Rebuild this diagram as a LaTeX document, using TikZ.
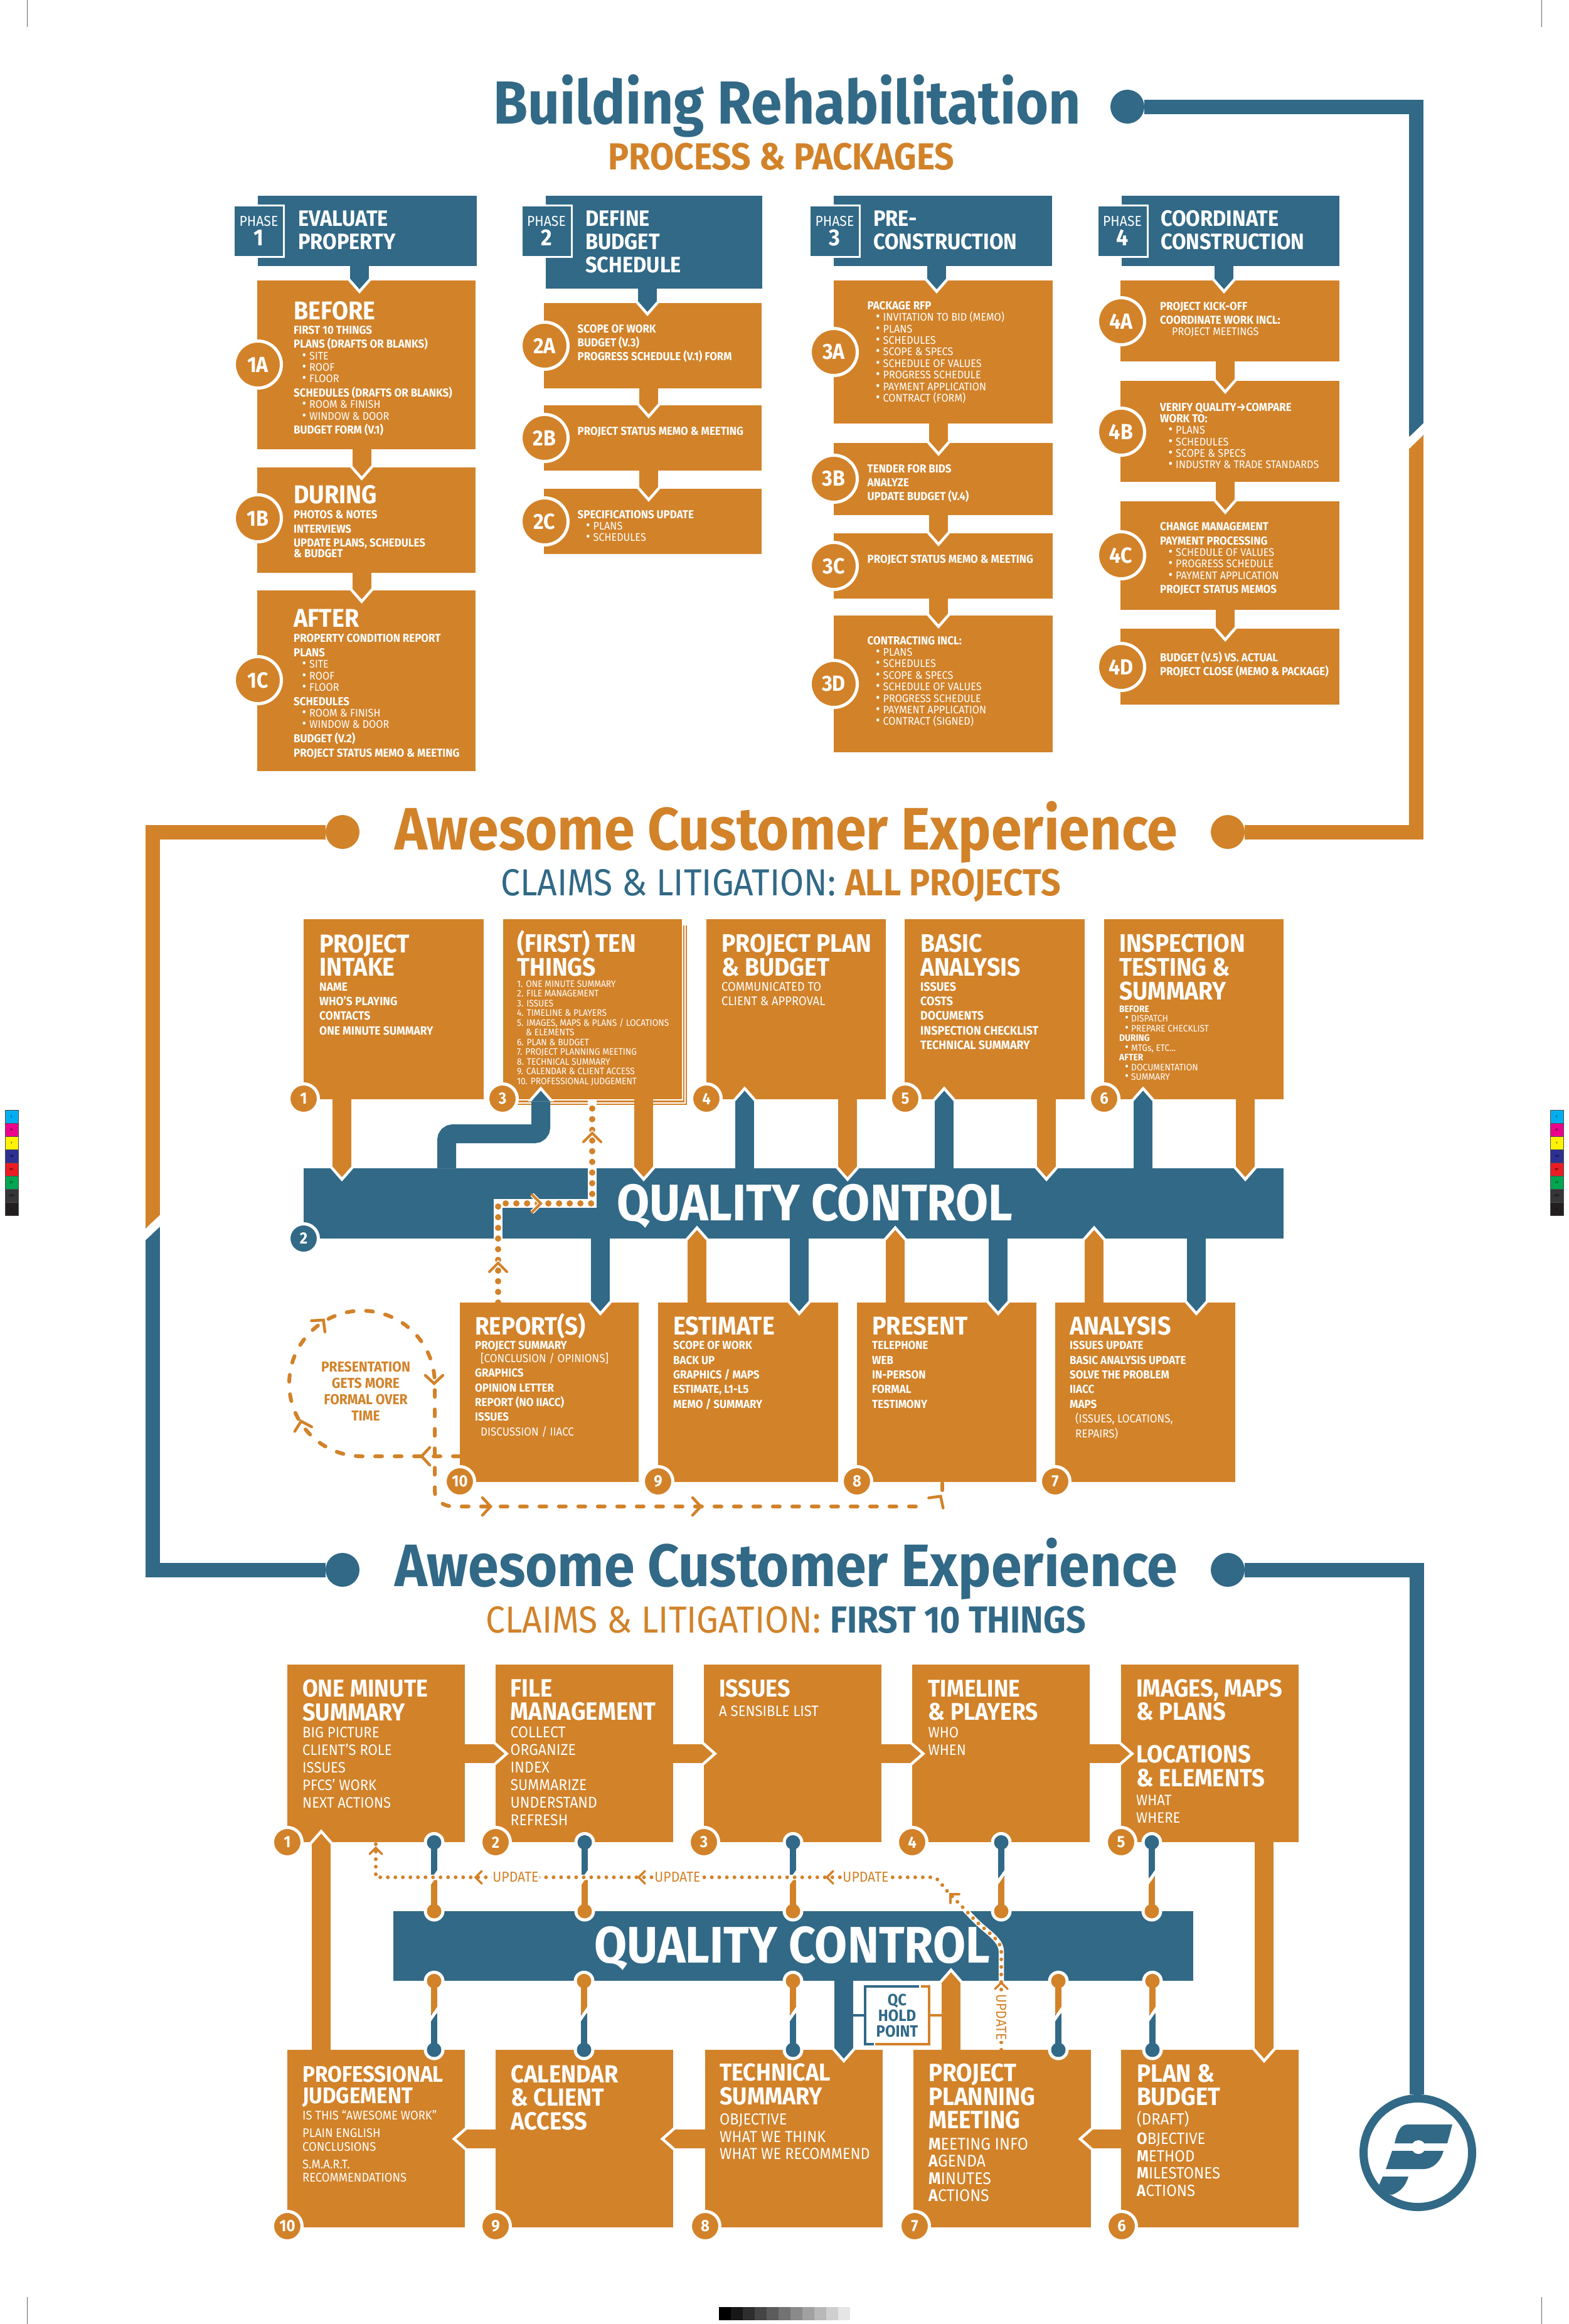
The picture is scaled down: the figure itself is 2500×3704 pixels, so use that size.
\documentclass[tikz,border=0pt]{standalone}
\usepackage{fontspec}
\setmainfont{Fira Sans}[FakeStretch=0.92]
\usetikzlibrary{arrows.meta}

\definecolor{rustc}{HTML}{D28229}
\definecolor{seac}{HTML}{316987}

\newcommand{\fz}[1]{\fontsize{#1}{0}\selectfont}
\newcommand{\bdf}[1]{\bfseries\fz{#1}}
\newcommand{\rgf}[1]{\mdseries\fz{#1}}
\newcommand{\ls}[1]{\\[#1pt]}
\newcommand{\bod}{\bdf{18.4}}
\newcommand{\lst}{\rgf{17.6}}
\newcommand{\bul}{\hspace*{13.5pt}\makebox[11.5pt][l]{\fz{22}\textbullet}}
\newcommand{\bus}{\hspace*{9pt}\makebox[10pt][l]{\fz{20}\textbullet}}
\newcommand{\nxb}{\ls{22.6}\bod}
\newcommand{\nxi}{\ls{18.4}\lst\bul}
\newcommand{\setstack}{\lineskiplimit=-\maxdimen\relax\baselineskip=0pt\relax}

\tikzset{
  card/.style={rectangle,fill=#1,inner sep=0pt,anchor=north west},
  stack/.style={anchor=base west,inner sep=0pt,text=white,text width=800pt,align=flush left,font=\setstack},
  stackc/.style={anchor=base,inner sep=0pt,text width=300pt,align=flush center,font=\setstack},
  tagbox/.style={rectangle,fill=seac,draw=white,line width=3pt,inner sep=0pt,minimum width=80pt,minimum height=82pt,
    text=white,text width=76pt,align=flush center,font=\setstack},
  badge/.style={circle,fill=rustc,draw=white,line width=5pt,inner sep=0pt,minimum size=75pt,text=white,font=\bdf{35}},
  numb/.style={circle,fill=#1,draw=white,line width=5pt,inner sep=0pt,minimum size=47pt,text=white,font=\bdf{26}},
  numb/.default=rustc,
  railend/.style={circle,fill=#1,inner sep=0pt,minimum size=54pt},
  rail/.style={#1,line width=23pt},
  cut/.style={white,line width=13.4pt},
  title/.style={anchor=base,inner sep=0pt,font=\bdf{97}},
  linkedge/.style={white,line width=30pt,shorten >=-21pt,-{Triangle[length=24pt,width=42pt,line width=0pt]}},
  link/.style={#1,line width=30pt,shorten >=-14pt,-{Triangle[length=17pt,width=30pt,line width=0pt]}},
  bigdots/.style={rustc,line width=10pt,line cap=round,dash pattern=on 0.01pt off 17pt,
    preaction={draw=white,line width=14pt}},
  smalldots/.style={rustc,line width=6pt,line cap=round,dash pattern=on 0.01pt off 12pt,
    preaction={draw=white,line width=8.5pt}},
  dashflow/.style={rustc,line width=6pt,line cap=round,dash pattern=on 11pt off 20pt},
  upd/.style={fill=white,text=rustc,inner sep=1.5pt,font=\rgf{23}},
  bigchev/.pic={\draw[white,line width=7pt] (-10,-14) -- (4,0) -- (-10,14);
    \draw[rustc,line width=4pt,line cap=round] (-10,-14) -- (4,0) -- (-10,14);},
  smallchev/.pic={\draw[rustc,line width=3.5pt,line cap=round] (-7,-10) -- (3,0) -- (-7,10);},
  dashchev/.pic={\draw[rustc,line width=4.5pt,line cap=round] (-9,-14) -- (4,0) -- (-9,14);},
  swatch/.style={rectangle,fill=#1,draw=black!70,line width=0.6pt,inner sep=0pt,minimum width=21pt,minimum height=21pt,font=\fz{5}},
}

\newcommand{\link}[3]{%
  \draw[linkedge] (#2) -- (#3);
  \draw[link=#1] (#2) -- (#3);
}
\newcommand{\balllink}[5]{%
  \coordinate (bt) at (#1);
  \coordinate (bb) at (#2);
  \coordinate (bm) at (bt |- 0,#3);
  \fill[white] (bt) circle (16.5) (bb) circle (16.5);
  \draw[#4,line width=10pt] (bt) -- (bm);
  \draw[#5,line width=10pt] (bm) -- (bb);
  \fill[#4] (bt) circle (11.5);
  \fill[#5] (bb) circle (11.5);
  \draw[white,line width=5pt] (bm) ++(-7,10) -- ++(14,-20);
}

\begin{document}
\begin{tikzpicture}[x=1pt,y=-1pt,>=stealth]
  \useasboundingbox (0,0) rectangle (2500,3704);

  \foreach \cx in {43,2457} {
    \draw[black!60,line width=1pt] (\cx,0) -- (\cx,43);
    \draw[black!60,line width=1pt] (\cx,3661) -- (\cx,3704);
  }
  \foreach \bx in {18.5,2481.5} {
    \foreach \hue/\lab [count=\i from 0] in {00AEEF/C,EC008C/M,FFF200/Y,2E3192/CM,ED1C24/MY,00A651/CY,363639/CMY,231F20/K} {
      \definecolor{barc}{HTML}{\hue}
      \node (sw\bx-\i) [swatch=barc] at (\bx,1779.5+21*\i) {\lab};
    }
  }
  \foreach \i in {0,...,10} {
    \fill[black!\the\numexpr100-\i*9\relax] (1146+19*\i,3677) rectangle ++(19,21);
  }

  \node (dtop) [railend=seac] at (1797,170) {};
  \node (dr2) [railend=rustc] at (1957,1326) {};
  \node (dl2) [railend=rustc] at (546,1326) {};
  \node (dl3) [railend=seac] at (546,2502) {};
  \node (dr3) [railend=seac] at (1957,2502) {};
  \node (logo) [circle,draw=seac,line width=13pt,inner sep=0pt,minimum size=173pt] at (2260,3431) {};

  \draw[rail=seac] (dtop) -- (2257.5,170) -- (2257.5,695);
  \draw[rail=rustc] (2257.5,695) -- (2257.5,1326) -- (dr2);
  \draw[cut] (2240,712) -- (2275,678);
  \draw[rail=rustc] (dl2) -- (243.5,1326) -- (243.5,1956);
  \draw[rail=seac] (243.5,1956) -- (243.5,2502) -- (dl3);
  \draw[cut] (226,1973) -- (261,1940);
  \draw[rail=seac] (dr3) -- (2258,2502) -- (logo.north -| 2258,0);

  \fill[seac] (2244,3386) -- (2315,3386) -- (2307,3416) -- (2223,3416) .. controls (2227,3398) and (2232,3386) .. (2244,3386);
  \fill[seac] (2219,3428) -- (2301,3428) .. controls (2296,3445) and (2285,3457) .. (2268,3457) -- (2209,3457) -- cycle;
  \fill[white] (2261,3422) circle (11);
  \fill[seac] (2204,3469) -- (2245,3469) .. controls (2240,3485) and (2232,3493) .. (2219,3498) -- (2205,3495) -- (2198,3483) -- cycle;

  \node (ttl) [title,text=seac] at (1254.5,197) {Building Rehabilitation};
  \node (sub) [title,text=rustc,font=\bdf{60}] at (1245.5,270) {PROCESS \& PACKAGES};
  \node (ace1) [title,text=rustc,font=\bdf{95.5}] at (1253,1354) {Awesome Customer Experience};
  \node (cl1) [title,text=seac,font=\rgf{60}] at (1244.5,1427) {CLAIMS \& LITIGATION: \textcolor{rustc}{\bdf{60}ALL PROJECTS}};
  \node (ace2) [title,text=seac,font=\bdf{95.5}] at (1253,2528) {Awesome Customer Experience};
  \node (cl2) [title,text=rustc,font=\rgf{60}] at (1252.5,2602) {CLAIMS \& LITIGATION: \textcolor{seac}{\bdf{60}FIRST 10 THINGS}};

  \fill[rustc] (802,1475) rectangle (1095,1761);
  \fill[white] (802,1475) rectangle (1092.5,1758.5);
  \fill[rustc] (802,1475) rectangle (1091,1756.5);
  \fill[white] (802,1475) rectangle (1089,1754);

  \foreach \nm/\fl/\xa/\ya/\xb/\yb in {
    h1/seac/411/312/760/424, h2/seac/870/312/1215/460, h3/seac/1329/312/1677/424, h4/seac/1788/312/2135/424,
    b1a/rustc/410/447/758/716, b1b/rustc/410/745/758/913, b1c/rustc/410/941/758/1229,
    b2a/rustc/867/483/1214/619, b2b/rustc/867/646/1214/750, b2c/rustc/867/779/1214/883,
    b3a/rustc/1329/447/1678/675, b3b/rustc/1329/706/1678/821, b3c/rustc/1329/850/1678/954, b3d/rustc/1329/981/1678/1199,
    b4a/rustc/1786/447/2135/576, b4b/rustc/1786/607/2135/768, b4c/rustc/1786/799/2135/972, b4d/rustc/1786/1002/2135/1123,
    c1/rustc/484/1465/771/1752, c3/rustc/802/1465/1087/1752, c4/rustc/1126/1465/1412/1752,
    c5/rustc/1442/1465/1729/1752, c6/rustc/1760/1465/2046/1752,
    qca/seac/484/1862/2046/1974,
    d10/rustc/733/2076/1018/2362, d9/rustc/1049/2076/1336/2362, d8/rustc/1366/2076/1652/2362, d7/rustc/1682/2076/1969/2362,
    q1/rustc/458/2653/741/2936, q2/rustc/790/2653/1073/2936, q3/rustc/1122/2653/1405/2936,
    q4/rustc/1454/2653/1737/2936, q5/rustc/1787/2653/2070/2936,
    qcb/seac/627/3046/1902/3157,
    p10/rustc/458/3267/741/3550, p9/rustc/790/3267/1073/3550, p8/rustc/1124/3267/1407/3550,
    p7/rustc/1456/3267/1739/3550, p6/rustc/1787/3267/2070/3550
  } {
    \node (\nm) [card=\fl,minimum width={\xb-\xa},minimum height={\yb-\ya}] at (\xa,\ya) {};
  }

  \foreach \x/\fa/\fb in {573/h1/b1a,1032/h2/b2a,1493/h3/b3a,1951/h4/b4a,957/qca/d10,1274/qca/d9,1591/qca/d8,1907/qca/d7,1345/qcb/p8} {
    \link{seac}{\fa.south -| \x,0}{\fb.north -| \x,0}
  }
  \foreach \x/\fa/\fb in {576.5/b1a/b1b,576.5/b1b/b1c,1034/b2a/b2b,1034/b2b/b2c,1496/b3a/b3b,1496/b3b/b3c,1496/b3c/b3d,
    1953/b4a/b4b,1953/b4b/b4c,1953/b4c/b4d,545/c1/qca,1026/c3/qca,1351/c4/qca,1668/c5/qca,1985/c6/qca,2015/q5/p6} {
    \link{rustc}{\fa.south -| \x,0}{\fb.north -| \x,0}
  }
  \foreach \x/\fa/\fb in {1187/qca/c4,1505/qca/c5,1822/qca/c6} {
    \link{seac}{\fa.north -| \x,0}{\fb.south -| \x,0}
  }
  \foreach \x/\fa/\fb in {1111/d9/qca,1427/d8/qca,1744/d7/qca,512/p10/q1,1516/p7/qcb} {
    \link{rustc}{\fa.north -| \x,0}{\fb.south -| \x,0}
  }
  \foreach \fa/\fb in {q1/q2,q2/q3,q3/q4,q4/q5} {
    \link{rustc}{\fa.east |- 0,2795}{\fb.west |- 0,2795}
  }
  \foreach \fa/\fb in {p9/p10,p8/p9,p6/p7} {
    \link{rustc}{\fa.west |- 0,3409}{\fb.east |- 0,3409}
  }
  \draw[linkedge,rounded corners=10pt] (qca.north -| 712,0) -- (712,1807) -- (862,1807) -- (c3.south -| 862,0);
  \draw[link=seac,rounded corners=10pt] (qca.north -| 712,0) -- (712,1807) -- (862,1807) -- (c3.south -| 862,0);

  \foreach \x/\fa in {692/q1,932/q2,1264/q3,1596/q4,1836/q5} {
    \balllink{\fa.south -| \x,0}{qcb.north -| \x,0}{2992}{seac}{rustc}
  }
  \foreach \x/\fb in {692/p10,931/p9,1264/p8,1687/p7,1837/p6} {
    \balllink{qcb.south -| \x,0}{\fb.north -| \x,0}{3210}{rustc}{seac}
  }

  \node (hold) [rectangle,fill=white,text=seac,inner sep=0pt,minimum width=102pt,minimum height=91pt,text width=100pt,align=flush center,font=\setstack]
    at (1430,3212) {\bdf{26}QC\ls{25}HOLD\ls{25}POINT};
  \draw[seac,line width=4pt] (hold.south west) ++(14,0) -- (hold.south west) -- (hold.north west) -- ++(86,0);
  \draw[rustc,line width=4pt] (hold.north east) ++(-13,0) -- (hold.north east) -- (hold.south east) -- ++(-86,0);
  \draw[seac,line width=4pt] (1360,3212) -- (hold.west);
  \draw[rustc,line width=4pt] (hold.east) -- (1502,3212);

  \draw[bigdots] (d10.north -| 794,0) -- (794,1918) -- (944,1918) -- (c3.south -| 944,0);
  \pic[rotate=90] at (944,1810) {bigchev};
  \pic at (858,1918) {bigchev};
  \pic[rotate=90] at (794,2017) {bigchev};

  \draw[dashflow] (d10.west |- 0,2321) -- (577,2321) arc[start angle=90,end angle=360,radius=116]
    -- (693,2376) .. controls (693,2390) and (705,2401) .. (724,2401) -- (1476,2401);
  \draw[dashflow] (1502,2375) -- (d8.south -| 1502,0);
  \foreach \px/\py/\ang in {676/2321/180,481/2269/105,513/2107/50,692/2201/-90,778/2401/0,1113/2401/0,1497/2388/55} {
    \pic[rotate=\ang] at (\px,\py) {dashchev};
  }

  \draw[smalldots] (p7.north -| 1596,0) -- (1596,3110) .. controls (1596,3090) and (1570,3078) .. (1551,3057) -- (1506,3010)
    .. controls (1500,3002) and (1495,2992) .. (1485,2992) -- (599,2992) -- (q1.south -| 599,0);
  \foreach \px/\py/\ang in {599/2948/90,761/2992/180,1021/2992/180,1321/2992/180,1517/3021/135,1596/3163/90} {
    \pic[rotate=\ang] at (\px,\py) {smallchev};
  }
  \node (u1) [upd] at (822,2992) {UPDATE};
  \node (u2) [upd] at (1080,2992) {UPDATE};
  \node (u3) [upd] at (1380,2992) {UPDATE};
  \node (u4) [upd,rotate=-90] at (1596,3215) {UPDATE};

  \foreach \nm/\px/\py/\lab in {
    n1a/411/581/1A, n1b/411/826/1B, n1c/411/1084/1C, n2a/868/551/2A, n2b/868/698/2B, n2c/868/831/2C,
    n3a/1329/561/3A, n3b/1329/763/3B, n3c/1329/902/3C, n3d/1329/1090/3D,
    n4a/1787/512/4A, n4b/1787/688/4B, n4c/1787/885/4C, n4d/1787/1063/4D
  } {
    \node (\nm) [badge] at (\px,\py) {\lab};
  }
  \foreach \nm/\px/\py/\lab in {
    m1/484/1751/1, m3/801/1751/3, m4/1126/1751/4, m5/1443/1751/5, m6/1760/1751/6,
    m7/1682/2361/7, m8/1366/2361/8, m9/1049/2361/9, m10/733/2361/10,
    r1/458/2936/1, r2/790/2936/2, r3/1122/2936/3, r4/1454/2936/4, r5/1787/2936/5,
    r6/1788/3548/6, r7/1458/3548/7, r8/1124/3548/8, r9/790/3548/9, r10/458/3548/10
  } {
    \node (\nm) [numb] at (\px,\py) {\lab};
  }
  \node (m2) [numb=seac] at (484,1974) {2};

  \foreach \nm/\hx/\num in {t1/412.5/1,t2/871/2,t3/1330.5/3,t4/1789/4} {
    \node (\nm) [tagbox] at (\hx,368) {\rgf{23}PHASE\ls{31}\bdf{37}\num};
  }
  \node (h1t) [stack] at (475,360) {\bdf{35.5}EVALUATE\ls{37}PROPERTY};
  \node (h2t) [stack] at (933,360) {\bdf{35.5}DEFINE\ls{37}BUDGET\ls{37}SCHEDULE};
  \node (h3t) [stack] at (1392,360) {\bdf{35.5}PRE-\ls{37}CONSTRUCTION};
  \node (h4t) [stack] at (1850,360) {\bdf{35.5}COORDINATE\ls{37}CONSTRUCTION};

  \node (s1a) [stack] at (468,509) {\bdf{41}BEFORE\ls{23}\bod FIRST 10 THINGS\nxb PLANS (DRAFTS OR BLANKS)\nxi SITE\nxi ROOF\nxi FLOOR\nxb SCHEDULES (DRAFTS OR BLANKS)\nxi ROOM \& FINISH\nxi WINDOW \& DOOR\nxb BUDGET FORM (V.1)};
  \node (s1b) [stack] at (468,802) {\bdf{41}DURING\ls{24.4}\bod PHOTOS \& NOTES\nxb INTERVIEWS\nxb UPDATE PLANS, SCHEDULES\ls{17.2}\& BUDGET};
  \node (s1c) [stack] at (468,999) {\bdf{41}AFTER\ls{24.6}\bod PROPERTY CONDITION REPORT\nxb PLANS\nxi SITE\nxi ROOF\nxi FLOOR\nxb SCHEDULES\nxi ROOM \& FINISH\nxi WINDOW \& DOOR\nxb BUDGET (V.2)\nxb PROJECT STATUS MEMO \& MEETING};
  \node (s2a) [stack] at (920.5,530) {\bod SCOPE OF WORK\ls{22}BUDGET (V.3)\ls{22}PROGRESS SCHEDULE (V.1) FORM};
  \node (s2b) [stack] at (920.5,693) {\bod PROJECT STATUS MEMO \& MEETING};
  \node (s2c) [stack] at (920.5,826) {\bod SPECIFICATIONS UPDATE\nxi PLANS\nxi SCHEDULES};
  \node (s3a) [stack] at (1382.5,493.3) {\bod PACKAGE RFP\nxi INVITATION TO BID (MEMO)\nxi PLANS\nxi SCHEDULES\nxi SCOPE \& SPECS\nxi SCHEDULE OF VALUES\nxi PROGRESS SCHEDULE\nxi PAYMENT APPLICATION\nxi CONTRACT (FORM)};
  \node (s3b) [stack] at (1382.5,753) {\bod TENDER FOR BIDS\ls{22}ANALYZE\ls{22}UPDATE BUDGET (V.4)};
  \node (s3c) [stack] at (1382.5,897) {\bod PROJECT STATUS MEMO \& MEETING};
  \node (s3d) [stack] at (1382.5,1027) {\bod CONTRACTING INCL:\nxi PLANS\nxi SCHEDULES\nxi SCOPE \& SPECS\nxi SCHEDULE OF VALUES\nxi PROGRESS SCHEDULE\nxi PAYMENT APPLICATION\nxi CONTRACT (SIGNED)};
  \node (s4a) [stack] at (1849,494) {\bod PROJECT KICK-OFF\ls{22}COORDINATE WORK INCL:\ls{18.4}\lst\hspace*{19pt}PROJECT MEETINGS};
  \node (s4b) [stack] at (1849,655.6) {\bod VERIFY QUALITY→COMPARE\ls{17.7}WORK TO:\nxi PLANS\nxi SCHEDULES\nxi SCOPE \& SPECS\nxi INDUSTRY \& TRADE STANDARDS};
  \node (s4c) [stack] at (1849,845.4) {\bod CHANGE MANAGEMENT\nxb PAYMENT PROCESSING\nxi SCHEDULE OF VALUES\nxi PROGRESS SCHEDULE\nxi PAYMENT APPLICATION\nxb PROJECT STATUS MEMOS};
  \node (s4d) [stack] at (1849,1054) {\bod BUDGET (V.5) VS. ACTUAL\ls{22}PROJECT CLOSE (MEMO \& PACKAGE)};

  \node (qct1) [title,text=white,font=\bdf{82}] at (1299,1945) {QUALITY CONTROL};
  \node (qct2) [title,text=white,font=\bdf{82}] at (1263,3128) {QUALITY CONTROL};

  \node (e1) [stack] at (509,1518) {\bdf{41}PROJECT\ls{37}INTAKE\ls{24}\bdf{19}NAME\ls{23.4}WHO’S PLAYING\ls{23.4}CONTACTS\ls{23.4}ONE MINUTE SUMMARY};
  \node (e3) [stack] at (824,1517) {\bdf{40.5}(FIRST) TEN\ls{38}THINGS\ls{18.2}\rgf{15}1. ONE MINUTE SUMMARY\ls{15.5}2. FILE MANAGEMENT\ls{15.5}3. ISSUES\ls{15.5}4. TIMELINE \& PLAYERS\ls{15.5}5. IMAGES, MAPS \& PLANS / LOCATIONS\ls{15.5}\hspace*{14pt}\& ELEMENTS\ls{15.5}6. PLAN \& BUDGET\ls{15.5}7. PROJECT PLANNING MEETING\ls{15.5}8. TECHNICAL SUMMARY\ls{15.5}9. CALENDAR \& CLIENT ACCESS\ls{15.5}10. PROFESSIONAL JUDGEMENT};
  \node (e4) [stack] at (1150,1517) {\bdf{40.5}PROJECT PLAN\ls{38}\& BUDGET\ls{24}\rgf{20}COMMUNICATED TO\ls{23.4}CLIENT \& APPROVAL};
  \node (e5) [stack] at (1467,1517) {\bdf{40.5}BASIC\ls{38}ANALYSIS\ls{24}\bdf{19.5}ISSUES\ls{23.4}COSTS\ls{23.4}DOCUMENTS\ls{23.4}INSPECTION CHECKLIST\ls{23.4}TECHNICAL SUMMARY};
  \node (e6) [stack] at (1784,1517) {\bdf{40.5}INSPECTION\ls{38}TESTING \&\ls{38}SUMMARY\ls{20}\bdf{15}BEFORE\ls{15.5}\rgf{15}\bus DISPATCH\ls{15.5}\bus PREPARE CHECKLIST\ls{15.5}\bdf{15}DURING\ls{15.5}\rgf{15}\bus MTGs, ETC...\ls{15.5}\bdf{15}AFTER\ls{15.5}\rgf{15}\bus DOCUMENTATION\ls{15.5}\bus SUMMARY};

  \node (g10) [stack] at (757,2127) {\bdf{40}REPORT(S)\ls{23.7}\bdf{18.5}PROJECT SUMMARY\ls{20.7}\rgf{18.5}\hspace*{9pt}[CONCLUSION / OPINIONS]\ls{23.2}\bdf{18.5}GRAPHICS\ls{23.4}OPINION LETTER\ls{23.4}REPORT (NO IIACC)\ls{23.4}ISSUES\ls{23.4}\rgf{18.5}\hspace*{9pt}DISCUSSION / IIACC};
  \node (g9) [stack] at (1073,2127) {\bdf{41}ESTIMATE\ls{23.7}\bdf{18.5}SCOPE OF WORK\ls{23.4}BACK UP\ls{23.4}GRAPHICS / MAPS\ls{23.4}ESTIMATE, L1-L5\ls{23.4}MEMO / SUMMARY};
  \node (g8) [stack] at (1390,2127) {\bdf{41}PRESENT\ls{23.7}\bdf{18.5}TELEPHONE\ls{23.4}WEB\ls{23.4}IN-PERSON\ls{23.4}FORMAL\ls{23.4}TESTIMONY};
  \node (g7) [stack] at (1705,2127) {\bdf{41}ANALYSIS\ls{23.7}\bdf{18.5}ISSUES UPDATE\ls{23.4}BASIC ANALYSIS UPDATE\ls{23.4}SOLVE THE PROBLEM\ls{23.4}IIACC\ls{23.4}MAPS\ls{23.4}\rgf{18.5}\hspace*{9pt}(ISSUES, LOCATIONS,\ls{23.4}\hspace*{9pt}REPAIRS)};
  \node (gp) [stackc,text=rustc] at (583,2186) {\bdf{23}PRESENTATION\ls{26.3}GETS MORE\ls{26.3}FORMAL OVER\ls{26.3}TIME};

  \node (k1) [stack] at (482,2704.6) {\bdf{39}ONE MINUTE\ls{38}SUMMARY\ls{27}\rgf{24}BIG PICTURE\ls{28}CLIENT’S ROLE\ls{28}ISSUES\ls{28}PFCS’ WORK\ls{28}NEXT ACTIONS};
  \node (k2) [stack] at (813.5,2704) {\bdf{40}FILE\ls{37.5}MANAGEMENT\ls{28}\rgf{25}COLLECT\ls{28}ORGANIZE\ls{28}INDEX\ls{28}SUMMARIZE\ls{28}UNDERSTAND\ls{28}REFRESH};
  \node (k3) [stack] at (1146,2704) {\bdf{39}ISSUES\ls{31.5}\rgf{24}A SENSIBLE LIST};
  \node (k4) [stack] at (1479.5,2704) {\bdf{38.5}TIMELINE\ls{37.5}\& PLAYERS\ls{28}\rgf{24}WHO\ls{28}WHEN};
  \node (k5) [stack] at (1811,2704) {\bdf{39.5}IMAGES, MAPS\ls{37.5}\& PLANS\ls{67.5}LOCATIONS\ls{38}\& ELEMENTS\ls{30}\rgf{24}WHAT\ls{28.5}WHERE};

  \node (w10) [stack] at (482,3318) {\bdf{36}PROFESSIONAL\ls{34}JUDGEMENT\ls{26}\rgf{20}IS THIS “AWESOME WORK”\ls{28.7}PLAIN ENGLISH\ls{21.3}CONCLUSIONS\ls{28}S.M.A.R.T.\ls{21.7}RECOMMENDATIONS};
  \node (w9) [stack] at (814,3319) {\bdf{39.5}CALENDAR\ls{37.7}\& CLIENT\ls{37.3}ACCESS};
  \node (w8) [stack] at (1147,3316.7) {\bdf{39}TECHNICAL\ls{37.3}SUMMARY\ls{32}\rgf{25.5}OBJECTIVE\ls{28}WHAT WE THINK\ls{27.7}WHAT WE RECOMMEND};
  \node (w7) [stack] at (1480,3317.7) {\bdf{40}PROJECT\ls{37.3}PLANNING\ls{37.7}MEETING\ls{33.3}\rgf{27}\textbf{M}EETING INFO\ls{27}\textbf{A}GENDA\ls{28}\textbf{M}INUTES\ls{27}\textbf{A}CTIONS};
  \node (w6) [stack] at (1812,3318) {\bdf{40}PLAN \&\ls{37.7}BUDGET\ls{31}\rgf{26}(DRAFT)\ls{30.3}\textbf{O}BJECTIVE\ls{28}\textbf{M}ETHOD\ls{27.7}\textbf{M}ILESTONES\ls{27.3}\textbf{A}CTIONS};
\end{tikzpicture}
\end{document}
